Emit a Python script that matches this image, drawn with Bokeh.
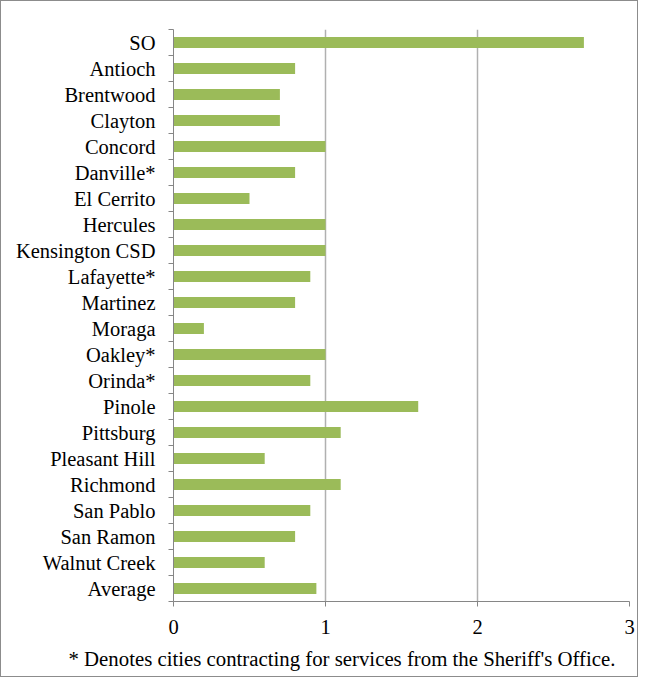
from bokeh.plotting import figure
from bokeh.models import Range1d, FixedTicker, Title, ColumnDataSource
from bokeh.embed import file_html
from bokeh.resources import INLINE

categories = ["SO", "Antioch", "Brentwood", "Clayton", "Concord", "Danville*", "El Cerrito",
              "Hercules", "Kensington CSD", "Lafayette*", "Martinez", "Moraga", "Oakley*",
              "Orinda*", "Pinole", "Pittsburg", "Pleasant Hill", "Richmond", "San Pablo",
              "San Ramon", "Walnut Creek", "Average"]
values = [2.7, 0.8, 0.7, 0.7, 1.0, 0.8, 0.5, 1.0, 1.0, 0.9, 0.8, 0.2, 1.0, 0.9, 1.61,
          1.1, 0.6, 1.1, 0.9, 0.8, 0.6, 0.94]
x_ticks = [0, 1, 2, 3]
footnote = "* Denotes cities contracting for services from the Sheriff's Office."

FONT = "Liberation Serif"
n = len(categories)
pos = list(range(n))
src = ColumnDataSource(dict(y=pos, v=values, name=categories))

p = figure(width=638, height=677, output_backend="svg", toolbar_location=None,
           x_range=Range1d(0, 3), y_range=Range1d(n - 0.5, -0.5),
           min_border_left=172, min_border_right=10, min_border_top=28, min_border_bottom=20)
p.styles = {"border": "1px solid #8c8c8c"}
p.outline_line_color = None
p.background_fill_color = "white"

p.hbar(y="y", left=0, right="v", height=0.42, source=src, fill_color="#9BBB59", line_color=None)

# y axis
yax = p.yaxis[0]
yax.ticker = FixedTicker(ticks=pos, minor_ticks=[i - 0.5 for i in range(n + 1)])
yax.major_label_overrides = {i: c for i, c in enumerate(categories)}
yax.major_tick_out = 0
yax.major_tick_in = 0
yax.minor_tick_out = 5
yax.minor_tick_in = 0
yax.minor_tick_line_color = "#868686"
yax.axis_line_color = "#868686"
yax.major_label_text_font = FONT
yax.major_label_text_font_size = "20.5px"
yax.major_label_text_color = "#000000"
yax.major_label_standoff = 13

# x axis
xax = p.xaxis[0]
xax.ticker = FixedTicker(ticks=x_ticks)
xax.major_tick_out = 5
xax.major_tick_in = 0
xax.minor_tick_line_color = None
xax.major_tick_line_color = "#868686"
xax.axis_line_color = "#868686"
xax.major_label_text_font = FONT
xax.major_label_text_font_size = "20.5px"
xax.major_label_text_color = "#000000"
xax.major_label_standoff = 13

p.xgrid.ticker = FixedTicker(ticks=x_ticks)
p.xgrid.grid_line_color = "#b0b0b0"
p.xgrid.grid_line_width = 1.5
p.ygrid.grid_line_color = None

t = Title(text=footnote, align="left", offset=-105, text_font=FONT, text_font_size="20.8px",
          text_font_style="normal", text_color="#000000", standoff=17)
p.add_layout(t, "below")

open("out.html", "w").write(file_html(p, INLINE))
